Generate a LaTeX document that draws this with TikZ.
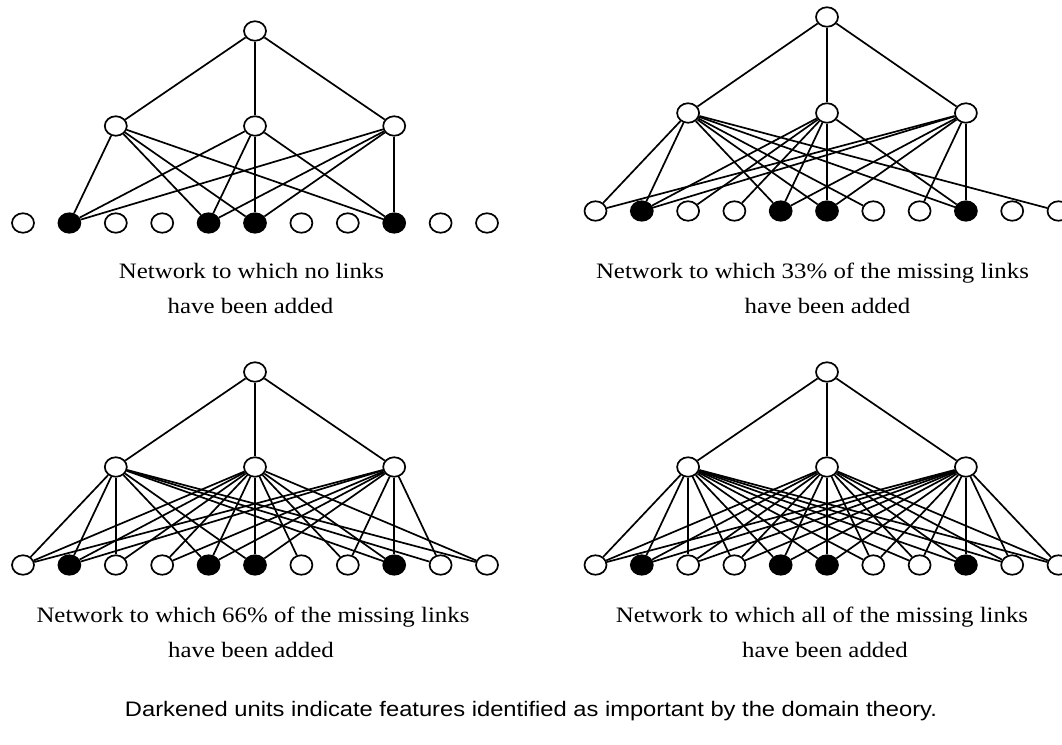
\documentclass[tikz,border=0pt]{standalone}
\usepackage{fontspec}
\setmainfont{Liberation Serif}[FakeStretch=1.13]
\newfontfamily\capsans{Liberation Sans}[FakeStretch=1.13]
\usetikzlibrary{shapes.geometric}
\tikzset{
  inp/.style={ellipse,draw=black,fill=white,line width=1.7pt,inner sep=0pt,minimum width=22pt,minimum height=19.5pt},
  dark/.style={inp,fill=black},
  link/.style={line width=1.7pt,black},
  captxt/.style={anchor=base,inner sep=0pt,font=\fontsize{22}{30}\selectfont},
  notetxt/.style={anchor=base,inner sep=0pt,font=\capsans\fontsize{21}{26}\selectfont}
}
\newcommand\drawpanel[7]{%
  \foreach \i/\s in {0/inp,1/dark,2/inp,3/inp,4/dark,5/dark,6/inp,7/inp,8/dark,9/inp,10/inp}
    \node[\s] (#1i\i) at ({#2+#3*\i},#6) {};
  \foreach \j/\k in {0/2,1/5,2/8}
    \node[inp] (#1h\j) at ({#2+#3*\k},#5) {};
  \node[inp] (#1t) at ({#2+#3*5},#4) {};
  \foreach \j in {0,1,2} \draw[link] (#1t) -- (#1h\j);
  \foreach \j/\i in {#7} \draw[link] (#1h\j) -- (#1i\i);
}
\begin{document}
\begin{tikzpicture}[x=1pt,y=-1pt]
\useasboundingbox (0,0) rectangle (1062,744);
% panel 1: no links added
\drawpanel{a}{23}{46.4}{31}{126}{223}{0/1,0/4,0/5,0/8,1/1,1/4,1/5,1/8,2/1,2/4,2/5,2/8}
% panel 2: 33%
\drawpanel{b}{595.5}{46.3}{17}{113}{211}{0/1,0/4,0/5,0/8,1/1,1/4,1/5,1/8,2/1,2/4,2/5,2/8,0/0,0/6,0/10,1/2,1/3,2/0,2/7}
% panel 3: 66%
\drawpanel{c}{23}{46.4}{372}{467}{565}{0/1,0/4,0/5,0/8,1/1,1/4,1/5,1/8,2/1,2/4,2/5,2/8,0/0,0/2,0/9,0/10,1/0,1/2,1/3,1/6,1/7,1/10,2/0,2/3,2/7,2/9}
% panel 4: all
\drawpanel{d}{595.5}{46.3}{372}{467}{565}{0/0,0/1,0/2,0/3,0/4,0/5,0/6,0/7,0/8,0/9,0/10,1/0,1/1,1/2,1/3,1/4,1/5,1/6,1/7,1/8,1/9,1/10,2/0,2/1,2/2,2/3,2/4,2/5,2/6,2/7,2/8,2/9,2/10}
% captions
\node[captxt] (ca1) at (251.5,278) {Network to which no links};
\node[captxt] (ca2) at (250.5,313) {have been added};
\node[captxt] (cb1) at (812.5,278) {Network to which 33\% of the missing links};
\node[captxt] (cb2) at (827.5,313) {have been added};
\node[captxt] (cc1) at (253,622) {Network to which 66\% of the missing links};
\node[captxt] (cc2) at (251,657) {have been added};
\node[captxt] (cd1) at (822,622) {Network to which all of the missing links};
\node[captxt] (cd2) at (825,657) {have been added};
\node[notetxt] (nt) at (531,716) {Darkened units indicate features identified as important by the domain theory.};
\end{tikzpicture}
\end{document}
